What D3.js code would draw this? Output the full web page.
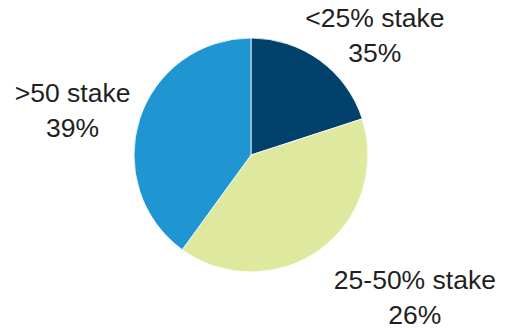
<!DOCTYPE html>
<html>
<head>
<meta charset="utf-8">
<script src="https://cdn.jsdelivr.net/npm/d3@7"></script>
<style>
  html, body { margin: 0; padding: 0; background: #fff; }
  #chart { width: 507px; height: 329px; }
  text { font-family: "Liberation Sans", Arial, sans-serif; fill: #231f20; }
</style>
</head>
<body>
<div id="chart"></div>
<script>
// slice shares, label texts as printed
const categories = ["<25% stake", "25-50% stake", ">50 stake"];
const shares = [20, 40, 40];
const labelPct = ["35%", "26%", "39%"];
const colors = ["#02416b", "#dee89f", "#1f95d2"];

const width = 507, height = 329;
const cx = 251, cy = 155, radius = 117;

const svg = d3.select("#chart").append("svg")
    .attr("width", width)
    .attr("height", height);

const g = svg.append("g")
    .attr("transform", "translate(" + cx + "," + cy + ")");

const data = categories.map((c, i) => ({ label: c, value: shares[i], pct: labelPct[i], color: colors[i] }));

const pie = d3.pie()
    .value(d => d.value)
    .sort(null);

const arc = d3.arc()
    .innerRadius(0)
    .outerRadius(radius);

const labelArc = d3.arc()
    .innerRadius(175)
    .outerRadius(175);

const arcs = pie(data);

g.selectAll("path")
    .data(arcs)
    .enter().append("path")
    .attr("d", arc)
    .style("fill", d => d.data.color)
    .style("stroke", "#fff")
    .style("stroke-width", 0.8);

// nudges so labels sit where the original put them
const nudge = [[21, 14], [61, -8], [-12, 1]];

const labels = g.selectAll(".lbl")
    .data(arcs)
    .enter().append("text")
    .attr("class", "lbl")
    .attr("text-anchor", "middle")
    .style("font-size", "26.5px")
    .attr("transform", (d, i) => {
        const c = labelArc.centroid(d);
        return "translate(" + (c[0] + nudge[i][0]) + "," + (c[1] + nudge[i][1]) + ")";
    });

labels.append("tspan")
    .attr("x", 0)
    .attr("y", 0)
    .text(d => d.data.label);

labels.append("tspan")
    .attr("x", 0)
    .attr("y", 35)
    .text(d => d.data.pct);
</script>
</body>
</html>
